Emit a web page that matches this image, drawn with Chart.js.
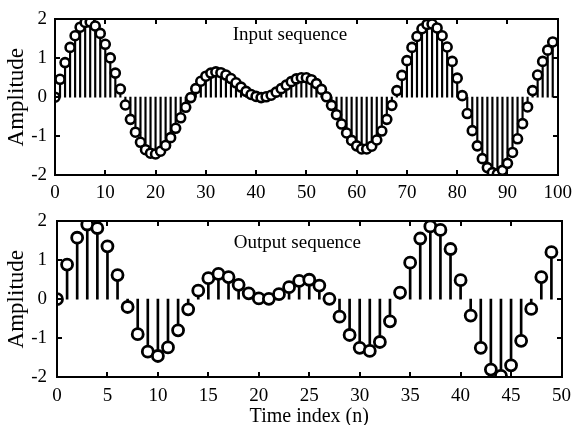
<!DOCTYPE html>
<html>
<head>
<meta charset="utf-8">
<script src="https://cdn.jsdelivr.net/npm/chart.js@4.4.1/dist/chart.umd.min.js"></script>
</head>
<body style="margin:0">
<div style="position:relative;width:579px;height:200px"><canvas id="inChart"></canvas></div>
<div style="position:relative;width:579px;height:225px"><canvas id="outChart"></canvas></div>
<script>
// Input sequence x[n], n = 0..99
const inputSeq = [
  0.00, 0.46, 0.89, 1.28, 1.58, 1.80, 1.92, 1.93, 1.83, 1.64,
  1.36, 1.01, 0.62, 0.21, -0.20, -0.57, -0.90, -1.16, -1.35, -1.44,
  -1.46, -1.39, -1.24, -1.04, -0.80, -0.53, -0.26, -0.01, 0.22, 0.41,
  0.54, 0.62, 0.65, 0.63, 0.57, 0.48, 0.37, 0.26, 0.15, 0.07,
  0.02, -0.01, 0.01, 0.05, 0.13, 0.22, 0.31, 0.40, 0.47, 0.50,
  0.50, 0.45, 0.35, 0.20, 0.01, -0.21, -0.45, -0.69, -0.92, -1.11,
  -1.25, -1.33, -1.33, -1.26, -1.10, -0.87, -0.57, -0.21, 0.17, 0.56,
  0.94, 1.28, 1.56, 1.76, 1.87, 1.88, 1.78, 1.58, 1.29, 0.92,
  0.49, 0.04, -0.42, -0.86, -1.25, -1.58, -1.81, -1.94, -1.97, -1.88,
  -1.70, -1.42, -1.07, -0.68, -0.25, 0.17, 0.57, 0.92, 1.21, 1.42
];

// Output sequence y[n], n = 0..49
const outputSeq = [
  0.00, 0.89, 1.58, 1.92, 1.83, 1.36, 0.62, -0.20, -0.90, -1.35,
  -1.46, -1.24, -0.80, -0.26, 0.22, 0.54, 0.65, 0.57, 0.37, 0.15,
  0.02, 0.01, 0.13, 0.31, 0.47, 0.50, 0.35, 0.01, -0.45, -0.92,
  -1.25, -1.33, -1.10, -0.57, 0.17, 0.94, 1.56, 1.87, 1.78, 1.29,
  0.49, -0.42, -1.25, -1.81, -1.97, -1.70, -1.07, -0.25, 0.57, 1.21
];

const ampTicks = [-2, -1, 0, 1, 2];
const inTicks = [0, 10, 20, 30, 40, 50, 60, 70, 80, 90, 100];
const outTicks = [0, 5, 10, 15, 20, 25, 30, 35, 40, 45, 50];

const FONT = '"Liberation Serif", "Times New Roman", serif';

// frame, inward ticks on all sides, and the in-axes title
const matBox = {
  id: 'matBox',
  afterDraw(chart, args, opts) {
    const { ctx, chartArea: a, scales } = chart;
    const L = Math.round(a.left), R = Math.round(a.right);
    const T = Math.round(a.top), B = Math.round(a.bottom);
    ctx.save();
    ctx.fillStyle = '#000';
    scales.x.ticks.forEach(t => {
      const px = Math.round(scales.x.getPixelForValue(t.value));
      ctx.fillRect(px - 1, B - 5, 2, 5);
      ctx.fillRect(px - 1, T, 2, 5);
    });
    scales.y.ticks.forEach(t => {
      const py = Math.round(scales.y.getPixelForValue(t.value));
      ctx.fillRect(L, py - 1, 5, 2);
      ctx.fillRect(R - 5, py - 1, 5, 2);
    });
    ctx.fillRect(L - 1, T - 1, R - L + 2, 2);
    ctx.fillRect(L - 1, B - 1, R - L + 2, 2);
    ctx.fillRect(L - 1, T - 1, 2, B - T + 2);
    ctx.fillRect(R - 1, T - 1, 2, B - T + 2);
    ctx.font = '19px ' + FONT;
    ctx.textAlign = 'center';
    ctx.textBaseline = 'middle';
    ctx.fillText(opts.text, L + (R - L) * opts.fx, T + opts.dy);
    ctx.restore();
  }
};

function makeStem(id, seq, xTicks, xMax, cfg) {
  const pts = seq.map((v, i) => ({ x: i, y: v }));
  return new Chart(document.getElementById(id), {
    type: 'bar',
    data: {
      datasets: [
        {
          type: 'line',
          data: pts,
          showLine: false,
          pointRadius: cfg.r,
          pointBorderWidth: cfg.bw,
          pointBorderColor: '#000',
          pointBackgroundColor: '#fff',
          order: 0
        },
        {
          type: 'bar',
          data: pts,
          backgroundColor: '#000',
          barThickness: cfg.stem,
          order: 1
        }
      ]
    },
    options: {
      responsive: true,
      maintainAspectRatio: false,
      animation: false,
      layout: { padding: cfg.pad },
      plugins: {
        legend: { display: false },
        tooltip: { enabled: false },
        matBox: { text: cfg.title, fx: cfg.fx, dy: cfg.dy }
      },
      scales: {
        x: {
          type: 'linear',
          min: 0,
          max: xMax,
          offset: false,
          grid: { display: false, drawTicks: false },
          border: { display: true, color: '#000', width: 2 },
          afterBuildTicks: s => { s.ticks = xTicks.map(v => ({ value: v })); },
          afterFit: s => { s.height = cfg.xh; },
          ticks: { color: '#000', padding: cfg.xpad, maxRotation: 0, font: { family: FONT, size: 19 } },
          title: {
            display: !!cfg.xlabel,
            text: cfg.xlabel || '',
            color: '#000',
            padding: { top: 0, bottom: -2 },
            font: { family: FONT, size: 20, lineHeight: 1.0 }
          }
        },
        y: {
          min: -2,
          max: 2,
          grid: { display: false, drawTicks: false },
          border: { display: true, color: '#000', width: 2 },
          afterBuildTicks: s => { s.ticks = ampTicks.map(v => ({ value: v })); },
          afterFit: s => { s.width = cfg.yw; },
          ticks: { color: '#000', padding: cfg.ypad, font: { family: FONT, size: 19 } },
          title: {
            display: true,
            text: 'Amplitude',
            color: '#000',
            padding: { top: 5, bottom: 0 },
            font: { family: FONT, size: 23, lineHeight: 1.0 }
          }
        }
      }
    },
    plugins: [matBox]
  });
}

makeStem('inChart', inputSeq, inTicks, 100, {
  r: 4.5, bw: 2.6, stem: 1.5,
  pad: { top: 14, right: 12, left: 0, bottom: 0 },
  xh: 25, yw: 55, xpad: 7, ypad: 8,
  title: 'Input sequence', fx: 0.467, dy: 16
});

makeStem('outChart', outputSeq, outTicks, 50, {
  r: 5.5, bw: 2.8, stem: 2,
  pad: { top: 13, right: 9, left: 0, bottom: 0 },
  xh: 48, yw: 57, xpad: 8, ypad: 10,
  xlabel: 'Time index (n)',
  title: 'Output sequence', fx: 0.476, dy: 22
});
</script>
</body>
</html>
